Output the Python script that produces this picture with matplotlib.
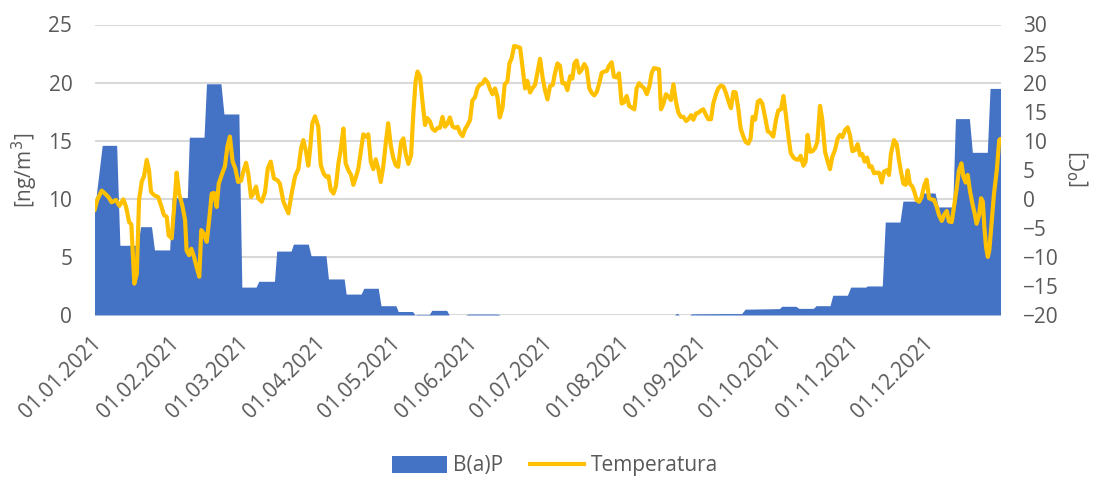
import numpy as np
import matplotlib
matplotlib.use("Agg")
import matplotlib.pyplot as plt
import matplotlib.dates as mdates
from matplotlib.patches import Patch
from matplotlib.lines import Line2D
import matplotlib.transforms as mtransforms
import datetime as dt

# ---------------- data (day offset from 01.01.2021) ----------------
bap_days = [0, 3.1, 8.9, 10.2, 17.4, 18.5, 22.9, 24.1, 30.2, 31.2, 37.3, 38.1, 44, 45,
            50.8, 52, 58, 59.2, 64.9, 66, 72.3, 73.2, 79, 79.9, 85.9, 87, 93, 94,
            100.3, 101.1, 107.1, 108.2, 114, 115.1, 121.1, 122, 127.8, 128.8, 129.5,
            134.5, 135.5, 141.5, 142.5, 149, 150, 162, 163, 233, 234, 235, 239, 240,
            253, 260, 261.4, 275.2, 276.1, 281.8, 283, 288.8, 289.9, 295.5, 296.6,
            302.5, 303.8, 309.8, 310.5, 316.5, 317.7, 323.6, 324.8, 332, 332.8, 337.7,
            339, 344.8, 345.9, 351.5, 352.7, 358.7, 359.8, 364]
bap_vals = [9.0, 14.6, 14.6, 6.0, 6.0, 7.6, 7.6, 5.6, 5.6, 10.1, 10.1, 15.3, 15.3, 19.9,
            19.9, 17.3, 17.3, 2.4, 2.4, 2.9, 2.9, 5.5, 5.5, 6.1, 6.1, 5.1, 5.1, 3.1,
            3.1, 1.8, 1.8, 2.3, 2.3, 0.8, 0.8, 0.3, 0.3, 0.0, 0.05,
            0.05, 0.4, 0.4, 0.0, 0.0, 0.08, 0.08, 0.0, 0.0, 0.15, 0.0, 0.0, 0.1,
            0.12, 0.12, 0.5, 0.55, 0.75, 0.75, 0.57, 0.57, 0.8, 0.8, 1.7,
            1.7, 2.4, 2.4, 2.5, 2.5, 8.0, 8.0, 9.8, 9.8, 10.5, 10.5,
            9.3, 9.3, 16.9, 16.9, 14.0, 14.0, 19.5, 19.5]

temp_days = [0, 1.1, 2.9, 4.2, 5.6, 6.9, 8.6, 10, 11.6, 12.7, 13.9, 14.8, 16, 17, 17.9,
             19, 19.9, 21, 21.9, 22.7, 24, 25.6, 26.7, 27.9, 29, 29.8, 31, 31.9, 33, 34,
             35.4, 36.4, 37, 38, 38.9, 40, 41, 42.1, 42.9, 43.9, 45.1, 46.2, 47.1, 48,
             49.1, 49.9, 51.1, 52.4, 53.4, 54.4, 55.5, 56.6, 57.7, 58.9, 59.8, 60.9,
             61.8, 62.9, 63.8, 64.9, 65.8, 67.2, 68.5, 69.6, 70.8, 72.1, 73.5, 74.5,
             75.9, 77.9, 79.2, 80.6, 81.9, 83, 83.9, 85, 85.9, 86.6, 87.5,
             88.6, 89.9, 90.9, 92, 93, 94, 94.9, 96, 97, 98, 98.9, 100, 100.9, 102,
             103.1, 104, 105.1, 106, 107, 108, 109, 110, 111, 112, 113, 114, 115, 116,
             117, 118, 119, 120, 121, 122, 123.2, 124.1, 125, 126.1, 127.2, 128.1, 129,
             129.8, 130.8, 131.7, 132.8, 133.7, 134.8, 135.7, 136.8, 137.9, 138.8,
             139.8, 140.8, 141.8, 142.8, 143.8, 144.8, 145.9, 146.9, 147.9, 148.9,
             149.9, 150.9, 151.8, 152.9, 153.8, 154.9, 155.8, 156.9, 158, 158.9, 159.9,
             160.9, 161.9, 162.8, 163.9, 164.8, 165.9, 166.7, 167.6, 168.6, 169.6, 171,
             171.9, 173, 173.9, 175, 175.9, 177, 177.9,
             179, 180.1, 181, 182, 183, 184.1, 185, 186, 187, 188, 189, 190, 191.1, 192,
             192.8, 193.7, 194.8, 195.7, 196.8, 197.7, 198.8, 199.8, 200.8, 201.8,
             202.8, 203.8, 204.8, 205.8, 206.7, 207.8, 208.7, 209.8, 210.7, 211.8,
             212.7, 213.8, 214.8, 215.8, 216.9, 217.8, 218.8, 219.8, 220.9, 221.9,
             222.9, 223.9, 224.8, 225.9, 226.8, 227.6, 228.6, 229.6, 230.6, 231.6,
             232.6, 233.6, 234.6, 235.6, 236.6, 237.7, 238.6, 239.7, 240.6, 241.7,
             242.6, 243.7, 244.6, 245.7, 246.6, 247.7, 248.6, 249.7, 250.6, 251.7,
             252.7, 253.7, 254.7, 255.7, 256.7, 257.6, 258.7, 259.6, 260.7, 261.6,
             262.7, 263.6, 264.4, 265.4, 266.5, 267.4, 268.3, 269.4, 270.5,
             271.4, 272.7, 273.8, 274.7, 275.8, 276.8, 277.7, 278.8, 279.7, 280.8,
             281.8, 282.8, 283.7, 284.8, 285.7, 286.5, 287.5, 288.5, 289.5, 290.4,
             291.5, 292.4, 293.5, 294.4, 295.5, 296.4, 297.5, 298.6, 299.5, 300.5,
             301.5, 302.6, 303.5, 304.5, 305.6, 306.6, 307.6, 308.5, 309.4, 310.4,
             311.3, 312.2, 313.2, 314.3, 315.2, 316.3, 317.2, 318.3, 319.2, 320, 321.2,
             322.3, 323.2, 324, 325, 325.9, 326.7, 327.6, 328.6, 329.4, 330.3, 331.3,
             332.3, 333.3, 334.3, 335.3, 336.4, 337.3, 338.4, 339.3, 340.4, 341.3,
             342.4, 343.3, 344.4, 345.3, 346.4, 347.3, 348.3, 349.1, 350, 350.8, 351.8,
             352.7, 353.6, 354.4, 355.4, 356.2, 356.9, 357.5, 358.2, 358.9, 359.5,
             360.5, 361.4, 362.5, 363.5, 364]
temp_vals = [-2.0, -0.2, 1.4, 0.9, 0.3, -0.6, -0.2, -1.2, -0.1, -1.4, -4.0, -4.4, -14.6,
             -12.9, -0.2, 3.0, 3.9, 6.7, 4.9, 1.2, 0.6, 0.3, -1.1, -2.8, -3.1, -6.3,
             -6.8, -2.0, 4.5, 0.9, -1.4, -3.7, -8.9, -9.7, -8.6, -10.0, -11.7, -13.4,
             -5.4, -6.0, -7.4, -3.1, 0.9, 1.0, -1.4, 2.6, 4.1, 5.6, 9.0, 10.7, 6.4, 5.2,
             2.9, 3.1, 4.7, 6.2, 4.3, 0.3, 0.9, 2.1, 0.1, -0.5, 1.1, 5.2, 6.4, 3.5, 3.2,
             2.6, -0.5, -2.5, 0.9, 3.9, 5.1, 8.7, 10.1, 8.1, 5.7, 8.4, 13.0,
             14.2, 12.4, 5.8, 4.4, 3.8, 3.9, 1.6, 0.9, 2.2, 6.1, 8.4, 12.1, 6.1, 4.9,
             4.1, 2.4, 3.8, 5.2, 8.1, 11.1, 10.7, 11.1, 6.4, 5.1, 6.8, 5.2, 2.9, 5.5,
             9.5, 13.0, 9.3, 7.1, 5.8, 5.5, 9.8, 10.4, 7.8, 6.0, 7.5, 14.7, 20.2,
             21.9, 21.0, 17.0, 12.7, 13.9, 13.3, 12.1, 11.7, 12.2, 12.2,
             14.1, 12.4, 12.9, 14.0, 12.5, 12.2, 12.4, 11.3, 10.8, 12.0,
             12.7, 13.6, 16.9, 17.5, 19.0, 19.7, 19.8, 20.6, 20.0, 18.9, 18.0,
             19.0, 17.5, 14.0, 15.6, 19.7, 20.2, 23.3, 24.2, 26.3, 26.2, 26.0,
             22.8, 19.0, 20.3, 18.3, 19.0, 19.6, 21.6,
             24.1, 20.7, 18.7, 17.1, 19.4, 19.6, 21.6, 23.3, 22.9, 19.9, 19.9, 18.7,
             21.1, 20.7, 23.3, 23.8, 21.7, 22.2, 23.2, 22.5, 19.0, 18.2, 17.8, 18.4,
             19.9, 21.7, 21.9, 22.0, 22.9, 23.5, 21.0, 20.9, 21.6, 16.4,
             16.6, 17.7, 16.0, 15.7, 15.4, 19.0, 19.9, 19.4, 19.0, 18.0,
             19.3, 21.7, 22.5, 22.4, 22.3, 15.4, 16.4, 18.0, 17.6, 17.0,
             19.7, 16.7, 14.8, 14.1, 14.1, 13.4, 13.7, 14.4, 13.6, 14.7,
             14.8, 15.2, 15.4, 14.4, 13.7, 13.7, 16.4, 18.0, 19.0, 19.5,
             19.3, 18.2, 16.8, 15.6, 18.4, 18.3, 15.4, 12.1, 10.7, 9.8,
             9.5, 10.4, 14.1, 13.6, 16.7, 17.0, 16.4, 14.1, 11.6,
             11.4, 10.7, 13.6, 15.2, 15.4, 17.7, 14.7, 10.7, 7.9, 7.1,
             6.8, 6.7, 7.4, 5.7, 6.4, 11.0, 8.1, 8.2, 8.7, 9.8,
             16.0, 13.6, 8.1, 6.7, 5.1, 7.2, 8.4, 10.4, 11.0, 10.6,
             11.8, 12.3, 11.0, 8.2, 8.4, 9.4, 7.5, 7.7, 6.4, 7.1,
             5.5, 5.6, 4.4, 4.5, 4.5, 2.8, 4.7, 4.9, 4.1, 7.8, 10.1,
             9.4, 6.7, 4.7, 2.6, 2.4, 4.9, 2.6, 2.1, 1.2, -0.2, -0.5,
             0.3, 2.2, 3.3, 0.1, -0.1, -0.2, -1.4, -2.8, -3.8, -2.8,
             -2.1, -3.9, -4.0, -1.4, 1.8, 4.9, 6.1, 3.8, 2.8, 4.1, 1.2,
             -0.8, -2.5, -4.3, -2.8, 0.1, -0.5, -4.8, -8.3, -10.0, -8.9,
             -3.7, 0.9, 4.9, 10.1, 10.3]

month_ticks = ["2021-01-01", "2021-02-01", "2021-03-01", "2021-04-01", "2021-05-01",
               "2021-06-01", "2021-07-01", "2021-08-01", "2021-09-01", "2021-10-01",
               "2021-11-01", "2021-12-01"]
left_ticks = [0, 5, 10, 15, 20, 25]
right_ticks = [-20, -15, -10, -5, 0, 5, 10, 15, 20, 25, 30]

# ---------------- styling ----------------
BLUE = "#4472C4"
YELLOW = "#FFC000"
GREY = "#595959"
GRID = "#D9D9D9"
FONT = "Open Sans"
FS = 15
LW = 3.0

plt.rcParams['font.family'] = [FONT, 'DejaVu Sans']

base = mdates.date2num(dt.datetime(2021, 1, 1))
bx = base + np.array(bap_days)
tx = base + np.array(temp_days)

W, H = 1093, 479
fig = plt.figure(figsize=(W / 100, H / 100), dpi=100)
ax = fig.add_axes([94.5 / W, 1 - 315 / H, (1000.5 - 94.5) / W, (315 - 24.5) / H])
ax2 = ax.twinx()

ax.fill_between(bx, 0, bap_vals, color=BLUE, linewidth=0, zorder=2)
ax2.plot(tx, temp_vals, color=YELLOW, linewidth=LW, solid_joinstyle='round',
         solid_capstyle='round', zorder=3)

ax.set_ylim(0, 25)
ax.set_yticks(left_ticks)
ax2.set_ylim(-20, 30)
ax2.set_yticks(right_ticks)
ax.set_xlim(base, base + 364)
ax.set_xticks([mdates.date2num(dt.datetime.strptime(m, "%Y-%m-%d")) for m in month_ticks])
ax.xaxis.set_major_formatter(mdates.DateFormatter("%d.%m.%Y"))

ax.grid(axis='y', color=GRID, linewidth=1.5, zorder=0)
ax.grid(axis='x', visible=False)
ax.set_axisbelow(True)

for a in (ax, ax2):
    for s in a.spines.values():
        s.set_visible(False)
    a.tick_params(length=0, labelsize=FS, labelcolor=GREY)

ax.tick_params(axis='y', pad=16)
ax2.tick_params(axis='y', pad=16)
ax.tick_params(axis='x', pad=18)
offset = mtransforms.ScaledTranslation(4 / 100, 0, fig.dpi_scale_trans)
for lbl in ax.get_xticklabels():
    lbl.set_rotation(45)
    lbl.set_ha('right')
    lbl.set_rotation_mode('anchor')
    lbl.set_va('center')
    lbl.set_transform(lbl.get_transform() + offset)

fig.text(25 / W, 1 - 170 / H, "[ng/m$^{3}$]", fontsize=FS, color=GREY,
         rotation=90, ha='center', va='center')
fig.text(1079 / W, 1 - 170 / H, "[$^{\\mathrm{o}}$C]", fontsize=FS, color=GREY,
         rotation=90, ha='center', va='center')

handles = [Patch(facecolor=BLUE, edgecolor='none'),
           Line2D([0], [0], color=YELLOW, linewidth=LW)]
fig.legend(handles, ["B(a)P", "Temperatura"], loc='center',
           bbox_to_anchor=(555 / W, 1 - 466 / H), ncol=2, frameon=False,
           fontsize=FS, labelcolor=GREY, handlelength=2.6, handleheight=0.9,
           handletextpad=0.3, columnspacing=1.3)

fig.savefig("out.png", dpi=100)
